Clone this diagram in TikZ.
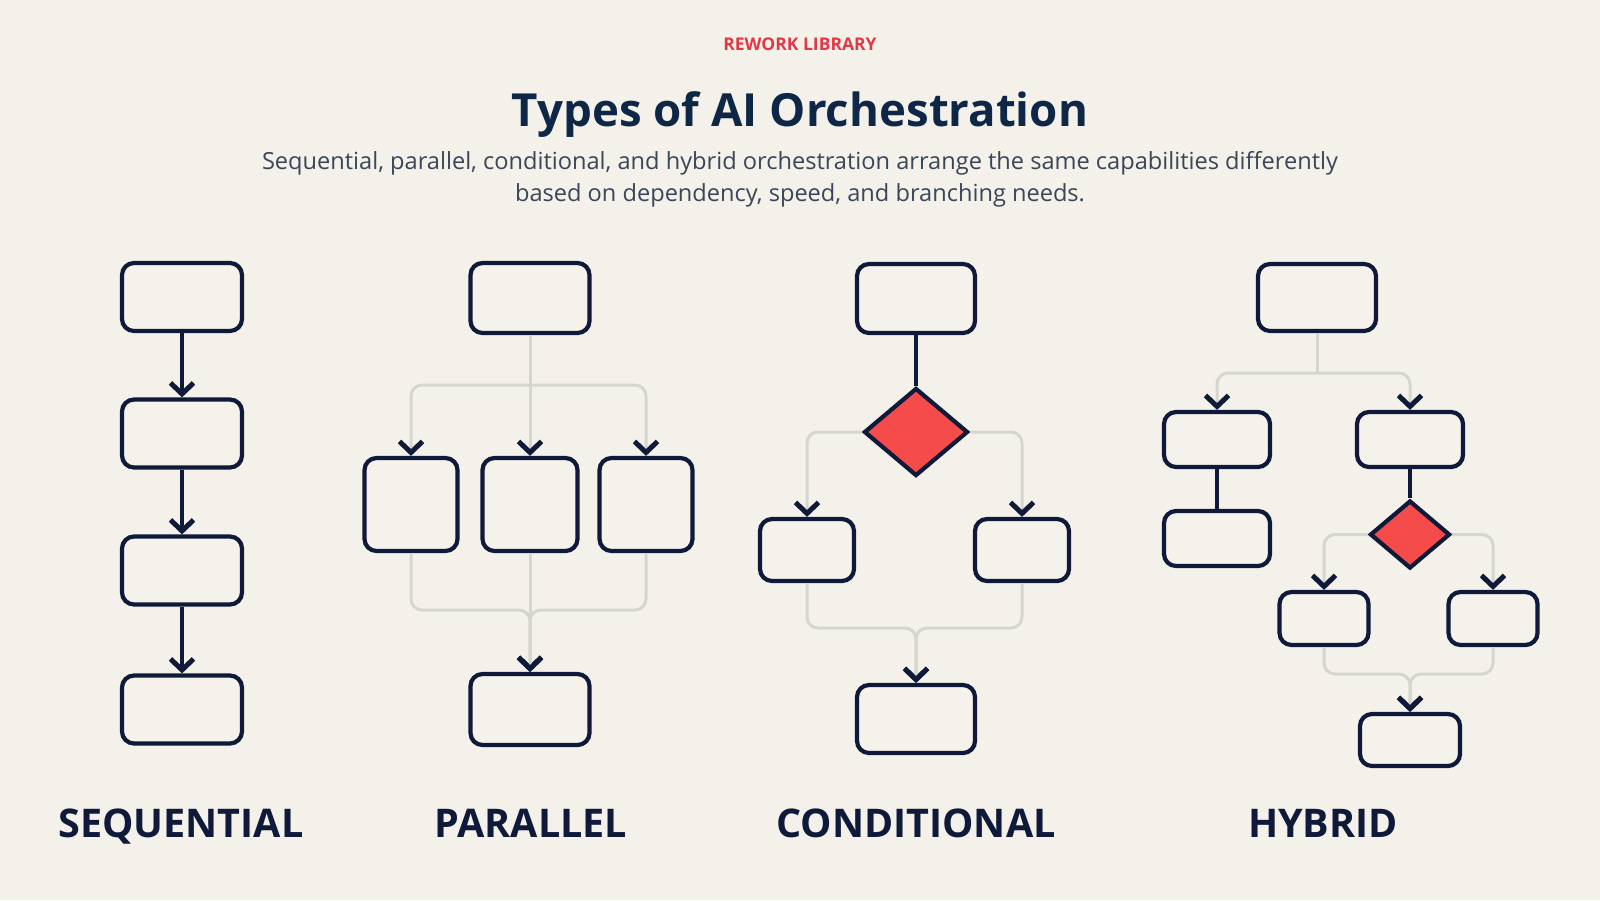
\documentclass[tikz,border=0pt]{standalone}
\usepackage{fontspec}
\setmainfont{Open Sans}
\usetikzlibrary{arrows.meta,shapes.geometric,calc}
\definecolor{bgc}{HTML}{F4F1EA}
\definecolor{boxfill}{HTML}{F5F2EB}
\definecolor{navy}{HTML}{0F1A3A}
\definecolor{titlec}{HTML}{0E2747}
\definecolor{subc}{HTML}{3A4658}
\definecolor{redc}{HTML}{E23744}
\definecolor{diamc}{HTML}{F54B4B}
\definecolor{connc}{HTML}{D5D7CF}
\begin{document}
\begin{tikzpicture}[x=1pt,y=-1pt,
  box/.style={draw=navy, line width=4.2pt, rounded corners=12pt, fill=boxfill, inner sep=0pt},
  dec/.style={diamond, draw=navy, line width=4.2pt, fill=diamc, inner sep=0pt},
  chevtip/.style={-{Straight Barb[length=11pt,width=23pt,line width=5pt,color=navy]}},
  darkline/.style={draw=navy, line width=4pt},
  conn/.style={draw=connc, line width=3pt},
  rc/.style={rounded corners=11pt},
  lab/.style={anchor=base, text=navy, font=\bfseries\fontsize{39.5}{44}\selectfont},
]
\fill[bgc] (0,0) rectangle (1600,900);
\useasboundingbox (0,0) rectangle (1600,900);

% header
\node[anchor=base, text=redc, font=\bfseries\fontsize{17.5}{20}\selectfont] (kick) at (800,50) {REWORK LIBRARY};
\node[anchor=base, text=titlec, font=\bfseries\fontsize{45.6}{50}\selectfont] (title) at (800,126) {Types of AI Orchestration};
\node[anchor=base, text=subc, font=\fontsize{23.6}{28}\selectfont] (sub1) at (800,169) {Sequential, parallel, conditional, and hybrid orchestration arrange the same capabilities differently};
\node[anchor=base, text=subc, font=\fontsize{23.6}{28}\selectfont] (sub2) at (800,201) {based on dependency, speed, and branching needs.};

% sequential
\node[box, minimum width=120pt, minimum height=68pt] (s1) at (182,297) {};
\node[box, minimum width=120pt, minimum height=68pt] (s2) at (182,433.5) {};
\node[box, minimum width=120pt, minimum height=68pt] (s3) at (182,570.5) {};
\node[box, minimum width=120pt, minimum height=68pt] (s4) at (182,709.5) {};
\draw[darkline, chevtip] (s1) -- (s2);
\draw[darkline, chevtip] (s2) -- (s3);
\draw[darkline, chevtip] (s3) -- (s4);

% parallel
\node[box, minimum width=119pt, minimum height=70pt] (ptop) at (530,298) {};
\node[box, minimum width=93pt, minimum height=93pt] (pa) at (411,504.5) {};
\node[box, minimum width=95pt, minimum height=93pt] (pb) at (530,504.5) {};
\node[box, minimum width=93pt, minimum height=93pt] (pc) at (646,504.5) {};
\node[box, minimum width=119pt, minimum height=71pt] (pbot) at (530,709.5) {};
\coordinate (pj) at (530,385);
\coordinate (pm) at (530,610);
\draw[conn] (ptop) -- (pj);
\draw[conn, rc, chevtip] (pj) -| (pa.north);
\draw[conn, chevtip] (pj) -- (pb);
\draw[conn, rc, chevtip] (pj) -| (pc.north);
\draw[conn, rc, chevtip] (pa.south) |- (pm) -- (pbot.north);
\draw[conn, rc, chevtip] (pc.south) |- (pm) -- (pbot.north);
\draw[conn, chevtip] (pb) -- (pbot);

% conditional
\node[box, minimum width=118pt, minimum height=69pt] (ctop) at (916,298.5) {};
\node[dec, minimum width=104pt, minimum height=88pt] (cd) at (916,432) {};
\node[box, minimum width=94pt, minimum height=62pt] (cl) at (807,550) {};
\node[box, minimum width=94pt, minimum height=62pt] (cr) at (1022,550) {};
\node[box, minimum width=118pt, minimum height=68pt] (cbot) at (916,719) {};
\coordinate (cm) at (916,628);
\draw[darkline] (ctop) -- (cd);
\draw[conn, rc, chevtip] (cd.west) -| (cl.north);
\draw[conn, rc, chevtip] (cd.east) -| (cr.north);
\draw[conn, rc, chevtip] (cl.south) |- (cm) -- (cbot.north);
\draw[conn, rc, chevtip] (cr.south) |- (cm) -- (cbot.north);

% hybrid
\node[box, minimum width=118pt, minimum height=67pt] (htop) at (1317,297.5) {};
\node[box, minimum width=106pt, minimum height=55pt] (hl1) at (1217,439.5) {};
\node[box, minimum width=106pt, minimum height=55pt] (hl2) at (1217,538.5) {};
\node[box, minimum width=106pt, minimum height=55pt] (hr1) at (1410,439.5) {};
\node[dec, minimum width=80pt, minimum height=68pt] (hd) at (1410,534.5) {};
\node[box, minimum width=89pt, minimum height=53pt] (hrl) at (1324,618.5) {};
\node[box, minimum width=89pt, minimum height=53pt] (hrr) at (1493,618.5) {};
\node[box, minimum width=100pt, minimum height=52pt] (hbot) at (1410,740) {};
\coordinate (hj) at (1317,373);
\coordinate (hm) at (1410,674);
\draw[conn] (htop) -- (hj);
\draw[conn, rc, chevtip] (hj) -| (hl1.north);
\draw[conn, rc, chevtip] (hj) -| (hr1.north);
\draw[darkline] (hl1) -- (hl2);
\draw[darkline] (hr1) -- (hd);
\draw[conn, rc, chevtip] (hd.west) -| (hrl.north);
\draw[conn, rc, chevtip] (hd.east) -| (hrr.north);
\draw[conn, rc, chevtip] (hrl.south) |- (hm) -- (hbot.north);
\draw[conn, rc, chevtip] (hrr.south) |- (hm) -- (hbot.north);

% labels
\node[lab] (lseq) at (181,837) {SEQUENTIAL};
\node[lab] (lpar) at (531,837) {PARALLEL};
\node[lab] (lcon) at (916,837) {CONDITIONAL};
\node[lab] (lhyb) at (1323,837) {HYBRID};
\end{tikzpicture}
\end{document}
